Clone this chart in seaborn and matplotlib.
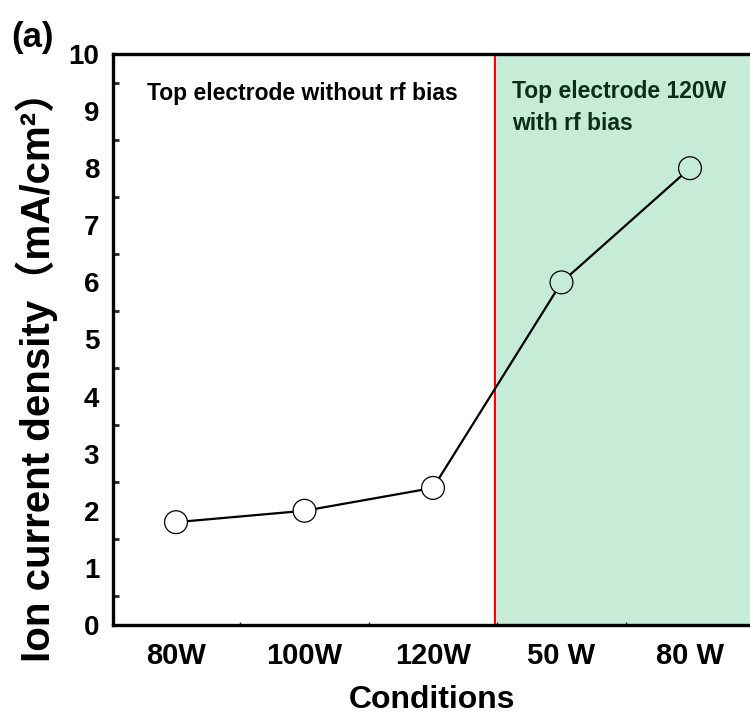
import numpy as np
import pandas as pd
import seaborn as sb
import matplotlib.pyplot as plt
from matplotlib.ticker import MultipleLocator

# data
conditions = ["80W", "100W", "120W", "50 W", "80 W"]
ion_density = [1.8, 2.0, 2.4, 6.0, 8.0]
bias_group = ["no bias", "no bias", "no bias", "rf bias", "rf bias"]

GREEN = "#c6ebd7"
DARK_GREEN = "#0b2e1b"

sb.set_theme(style="white")
plt.rcParams["font.family"] = ["Liberation Sans", "DejaVu Sans"]
plt.rcParams["font.weight"] = "bold"
plt.rcParams["text.color"] = "black"
plt.rcParams["axes.labelcolor"] = "black"


def plot_ion_density(out_file="out.png"):
    df = pd.DataFrame({"pos": np.arange(len(conditions)),
                       "density": ion_density,
                       "group": bias_group})

    fig = plt.figure(figsize=(7.5, 7.2), dpi=100)
    ax = fig.add_axes([0.1507, 0.132, 0.8493, 0.793])

    ax.axvspan(2.5, 5, color=GREEN, lw=0, zorder=0)
    ax.axvline(2.48, color="red", lw=1.6, zorder=1)

    sb.lineplot(data=df, x="pos", y="density", color="black", lw=1.6, ax=ax, zorder=2)
    sb.scatterplot(data=df, x="pos", y="density", hue="group",
                   palette={"no bias": "white", "rf bias": GREEN},
                   edgecolor="black", linewidth=0.9, s=270, legend=False, ax=ax, zorder=3)

    ax.set_xlim(-0.49, 4.467)
    ax.set_ylim(0, 10)
    ax.set_xticks(df["pos"])
    ax.set_xticklabels(conditions)
    ax.xaxis.set_minor_locator(MultipleLocator(0.5))
    ax.yaxis.set_major_locator(MultipleLocator(1))
    ax.yaxis.set_minor_locator(MultipleLocator(0.5))

    ax.tick_params(which="major", direction="in", length=7, width=2, colors="black")
    ax.tick_params(axis="x", which="major", labelsize=21, pad=12)
    ax.tick_params(axis="y", which="major", labelsize=20, pad=10)
    ax.tick_params(axis="y", which="minor", direction="in", length=4, width=2, left=True)
    ax.tick_params(axis="x", which="minor", direction="in", length=2, width=1, bottom=True)
    for lab in ax.get_xticklabels() + ax.get_yticklabels():
        lab.set_fontweight("bold")

    for side in ["left", "bottom", "top"]:
        ax.spines[side].set_linewidth(2.4)
        ax.spines[side].set_color("black")
    ax.spines["right"].set_visible(False)

    ax.set_xlabel("Conditions", fontsize=23, fontweight="bold", labelpad=11)
    ax.set_ylabel("Ion current density（mA/cm²）", fontsize=29,
                  fontweight="bold",
                  family=["Liberation Sans", "Noto Sans CJK SC"])
    ax.yaxis.set_label_coords(-0.087, 0.453)

    ax.text(0.0534, 0.920, "Top electrode without rf bias", transform=ax.transAxes,
            fontsize=16.5, fontweight="bold", color="black", va="baseline")
    ax.text(0.626, 0.923, "Top electrode 120W", transform=ax.transAxes,
            fontsize=16.5, fontweight="bold", color=DARK_GREEN, va="baseline")
    ax.text(0.626, 0.867, "with rf bias", transform=ax.transAxes,
            fontsize=16.5, fontweight="bold", color=DARK_GREEN, va="baseline")
    fig.text(0.015, 0.935, "(a)", fontsize=25, fontweight="bold")

    fig.savefig(out_file, dpi=100)


if __name__ == "__main__":
    plot_ion_density()
